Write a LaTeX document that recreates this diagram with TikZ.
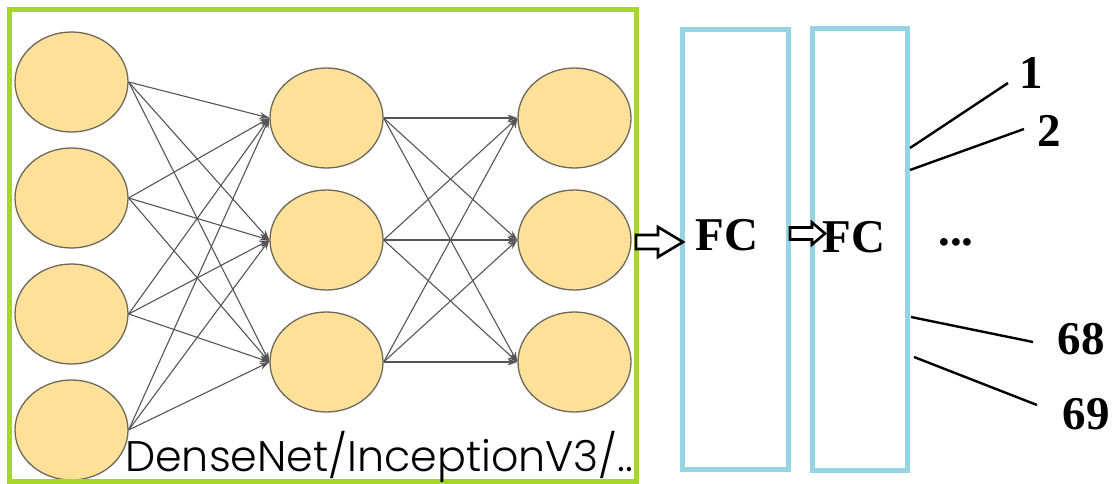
\documentclass[tikz,border=0pt]{standalone}
\usepackage{fontspec}
\setmainfont{Liberation Serif}
\newfontfamily\popfont{Poppins Light}
\usetikzlibrary{shapes.geometric,arrows.meta}
\definecolor{nfill}{RGB}{254,224,152}
\definecolor{nedge}{RGB}{110,104,92}
\definecolor{linkc}{RGB}{85,85,85}
\definecolor{frameg}{RGB}{166,214,42}
\definecolor{fcblue}{RGB}{150,212,228}
\begin{document}
\begin{tikzpicture}[x=1pt,y=-1pt,
  neuron/.style={ellipse,draw=nedge,fill=nfill,line width=1.3pt,minimum width=113pt,minimum height=100pt,inner sep=0pt},
  link/.style={draw=linkc,line width=1.1pt,-{Stealth[length=10pt,width=7pt]}},
  fcbox/.style={draw=fcblue,line width=5pt,inner sep=0pt},
  hollow/.style={draw=black,fill=white,line width=2.6pt,line join=miter},
  big/.style={font=\bfseries\fontsize{47}{47}\selectfont,inner sep=0pt},
  outline/.style={draw=black,line width=2.4pt}]
\useasboundingbox (0,0) rectangle (1113,484);
% layer 1
\node[neuron] (a1) at (71.5,82) {};
\node[neuron] (a2) at (71.5,198) {};
\node[neuron] (a3) at (71.5,314) {};
\node[neuron] (a4) at (71.5,430) {};
% layer 2
\node[neuron] (b1) at (326.5,118) {};
\node[neuron] (b2) at (326.5,240) {};
\node[neuron] (b3) at (326.5,362) {};
% layer 3
\node[neuron] (c1) at (574.5,118) {};
\node[neuron] (c2) at (574.5,240) {};
\node[neuron] (c3) at (574.5,362) {};
\foreach \i in {1,2,3,4}{\foreach \j in {1,2,3}{\draw[link] (a\i.east) -- (b\j.west);}}
\foreach \i in {1,2,3}{\foreach \j in {1,2,3}{\draw[link] (b\i.east) -- (c\j.west);}}
% backbone frame
\node[draw=frameg,line width=5pt,minimum width=626.5pt,minimum height=471.5pt,inner sep=0pt] (frame) at (322.75,245.25) {};
\node[anchor=base west,inner sep=0pt] (bbtext) at (125,471) {\resizebox{508pt}{!}{\popfont DenseNet/InceptionV3/..}};
% FC boxes
\node[fcbox,minimum width=106pt,minimum height=440pt] (fc1) at (735.5,249.5) {};
\node[fcbox,minimum width=95pt,minimum height=442pt] (fc2) at (860,249.5) {};
\node[big] (fc1t) at (727,235) {FC};
\node[big] (fc2t) at (854,237) {FC};
% hollow arrows
\draw[hollow] (636,235) -- (658,235) -- (658,227) -- (683,242) -- (658,257) -- (658,249) -- (636,249) -- cycle;
\draw[hollow] (790,227.5) -- (812,227.5) -- (812,222.5) -- (825,233.5) -- (812,244.5) -- (812,239.5) -- (790,239.5) -- cycle;
% outputs
\node[big] (o1) at (1031,73) {1};
\node[big] (o2) at (1049,131) {2};
\node[big] (o68) at (1081,339) {68};
\node[big] (o69) at (1086,414) {69};
\node[big,anchor=base] (dots) at (956,245) {...};
\coordinate (s1) at (910,148);
\coordinate (s2) at (910,170);
\coordinate (s3) at (911,317);
\coordinate (s4) at (914,357);
\coordinate (e1) at (1008,83);
\coordinate (e2) at (1024,129);
\coordinate (e3) at (1033,342);
\coordinate (e4) at (1037,405);
\draw[outline] (s1) -- (e1);
\draw[outline] (s2) -- (e2);
\draw[outline] (s3) -- (e3);
\draw[outline] (s4) -- (e4);
\end{tikzpicture}
\end{document}
